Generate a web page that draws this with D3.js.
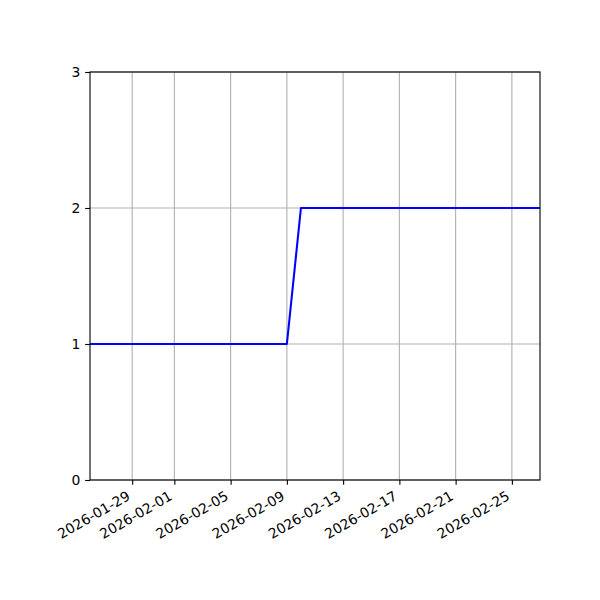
<!DOCTYPE html>
<html><head><meta charset="utf-8">
<script src="https://cdn.jsdelivr.net/npm/d3@7"></script>
<style>body{margin:0;background:#fff}svg{display:block}text{font-family:"DejaVu Sans",sans-serif}</style>
</head><body>
<svg id="c" width="600" height="600"></svg>
<script>
const dates = ["2026-01-26","2026-01-27","2026-01-28","2026-01-29","2026-01-30","2026-01-31","2026-02-01","2026-02-02","2026-02-03","2026-02-04","2026-02-05","2026-02-06","2026-02-07","2026-02-08","2026-02-09","2026-02-10","2026-02-11","2026-02-12","2026-02-13","2026-02-14","2026-02-15","2026-02-16","2026-02-17","2026-02-18","2026-02-19","2026-02-20","2026-02-21","2026-02-22","2026-02-23","2026-02-24","2026-02-25","2026-02-26","2026-02-27"];
const values = [1,1,1,1,1,1,1,1,1,1,1,1,1,1,1,2,2,2,2,2,2,2,2,2,2,2,2,2,2,2,2,2,2];
const xTickLabels = ["2026-01-29","2026-02-01","2026-02-05","2026-02-09","2026-02-13","2026-02-17","2026-02-21","2026-02-25"];
const yTicks = [0,1,2,3];

const parse = d3.utcParse("%Y-%m-%d");
const fmt = d3.utcFormat("%Y-%m-%d");
const data = dates.map((d,i)=>({d:parse(d), v:values[i]}));
const L=90,R=540,T=72,B=480;
const svg = d3.select("#c");
const x = d3.scaleUtc().domain([parse("2026-01-26"), parse("2026-02-27")]).range([L,R]);
const y = d3.scaleLinear().domain([0,3]).range([B,T]);
const font = "'DejaVu Sans', sans-serif";

// grid
svg.append("g").selectAll("line").data(xTickLabels.map(parse)).join("line")
  .attr("x1",d=>x(d)).attr("x2",d=>x(d)).attr("y1",T).attr("y2",B)
  .attr("stroke","#b0b0b0").attr("stroke-width",1.1);
svg.append("g").selectAll("line").data(yTicks).join("line")
  .attr("x1",L).attr("x2",R).attr("y1",d=>y(d)).attr("y2",d=>y(d))
  .attr("stroke","#b0b0b0").attr("stroke-width",1.1);

// line
svg.append("path").datum(data)
  .attr("d", d3.line().x(d=>x(d.d)).y(d=>y(d.v)))
  .attr("fill","none").attr("stroke","#0000ff").attr("stroke-width",2.08)
  .attr("stroke-linejoin","round");

// axes
const xa = svg.append("g").attr("transform",`translate(0,${B})`)
  .call(d3.axisBottom(x).tickValues(xTickLabels.map(parse)).tickFormat(fmt).tickSize(4.86).tickSizeOuter(0));
xa.attr("font-family",font).attr("font-size",13.9);
xa.select(".domain").remove();
xa.selectAll("line").attr("stroke","#000").attr("stroke-width",1.1);
xa.selectAll("text").style("font-family",font).style("font-size","13.9px").attr("fill","#000")
  .attr("text-anchor","end").attr("dy",null).attr("y",null)
  .attr("transform","translate(-1.6,18.9) rotate(-30)");

const ya = svg.append("g").attr("transform",`translate(${L},0)`)
  .call(d3.axisLeft(y).tickValues(yTicks).tickFormat(d3.format("d")).tickSize(4.86).tickSizeOuter(0));
ya.attr("font-family",font).attr("font-size",13.9);
ya.select(".domain").remove();
ya.selectAll("line").attr("stroke","#000").attr("stroke-width",1.1);
ya.selectAll("text").style("font-family",font).style("font-size","13.9px").attr("fill","#000").attr("x",-9.7);

// frame
svg.append("rect").attr("x",L).attr("y",T).attr("width",R-L).attr("height",B-T)
  .attr("fill","none").attr("stroke","#000").attr("stroke-width",1.1);
</script>
</body></html>
